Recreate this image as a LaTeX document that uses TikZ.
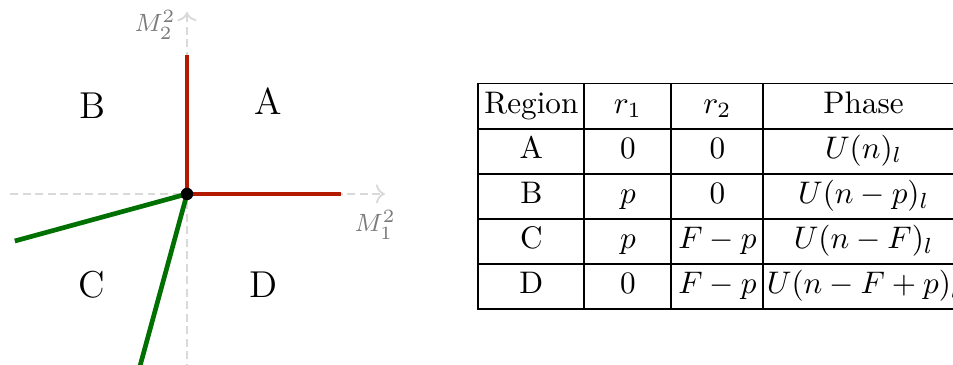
\documentclass[tikz,border=0pt]{standalone}
\usepackage{xcolor}
\definecolor{phaseRed}{HTML}{B31A00}
\definecolor{phaseGreen}{HTML}{007000}
\definecolor{axisGray}{HTML}{D9D9D9}
\definecolor{labelGray}{HTML}{7A7A7A}
\usepackage{tikz}
\usetikzlibrary{
  arrows.meta,
  matrix
}
\tikzset{
  axisline/.style={->,color=axisGray,line width=0.6pt,dash pattern=on 2.5pt off 1.5pt},
  bdry/.style={color=phaseRed,line width=1.5pt},
  branch/.style={color=phaseGreen,line width=1.5pt},
  regionlbl/.style={font=\large},
  axislbl/.style={font=\footnotesize,text=labelGray},
  origindot/.style={circle,fill=black,inner sep=0pt,minimum size=0.14cm},
  cell/.style={rectangle,draw,line width=0.6pt,minimum height=0.509cm,
               text height=0.75em,text depth=0.3em,
               inner sep=1pt,anchor=center,text centered}
}

\begin{document}
\begin{tikzpicture}
\useasboundingbox (-2.107,-1.926) rectangle (8.629,2.185);

% axes
\coordinate (O) at (0,0);
\coordinate (xlo) at (-1.99,0);
\coordinate (xhi) at (2.23,0);
\coordinate (ylo) at (0,-2.0);
\coordinate (yhi) at (0,2.05);
\draw[axisline] (xlo) -- (xhi);
\draw[axisline] (ylo) -- (yhi);
\node[axislbl] (m1) at (2.12,-0.35) {$M_1^2$};
\node[axislbl] (m2) at (-0.36,1.90) {$M_2^2$};

% phase boundaries
\coordinate (redup) at (0,1.566);
\coordinate (redright) at (1.735,0);
\coordinate (grleft) at (-1.94,-0.53);
\coordinate (grdown) at (-0.53,-1.94);
\draw[bdry] (O) -- (redup);
\draw[bdry] (O) -- (redright);
\draw[branch] (O) -- (grleft);
\draw[branch] (O) -- (grdown);
\node[origindot] (dot) at (O) {};

\node[regionlbl] (regA) at (0.91,1.05) {A};
\node[regionlbl] (regB) at (-1.07,0.99) {B};
\node[regionlbl] (regC) at (-1.07,-1.02) {C};
\node[regionlbl] (regD) at (0.86,-1.02) {D};

% table of phases
\matrix (phases) [matrix of nodes,nodes={cell},inner sep=0pt,anchor=north west,
  column sep=-0.6pt,row sep=-0.6pt,
  column 1/.style={nodes={minimum width=1.194cm}},
  column 2/.style={nodes={minimum width=0.98cm}},
  column 3/.style={nodes={minimum width=1.036cm}},
  column 4/.style={nodes={minimum width=2.26cm,inner xsep=0.5pt}}] at (3.265,1.262) {
  Region & $r_1$ & $r_2$ & Phase \\
  A & $0$ & $0$ & $U(n)_l$ \\
  B & $p$ & $0$ & $U(n-p)_l$ \\
  C & $p$ & $F-p$ & $U(n-F)_l$ \\
  D & $0$ & $F-p$ & $U(n-F+p)_l$ \\
};

\end{tikzpicture}
\end{document}
